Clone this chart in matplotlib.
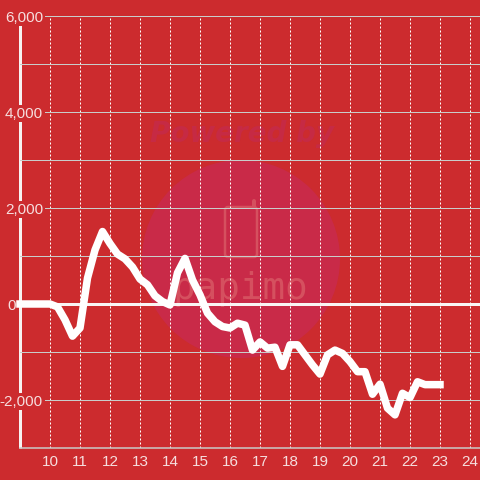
import matplotlib
matplotlib.use("Agg")
import matplotlib.pyplot as plt
from matplotlib.patches import Circle, FancyBboxPatch

plt.rcParams['font.family'] = ['Liberation Sans', 'DejaVu Sans']

# 15 minute steps starting at 9:00
hours = [9 + i * 0.25 for i in range(57)]
values = [0, 0, 0, 0, 0, -60, -330, -670, -500, 540, 1125, 1510, 1260, 1040, 940, 770,
          520, 400, 170, 50, -20, 650, 950, 500, 190, -190, -370, -470, -500, -400, -440,
          -960, -790, -920, -900, -1300, -850, -850, -1060, -1270, -1460, -1060, -960,
          -1030, -1200, -1410, -1410, -1880, -1670, -2170, -2310, -1860, -1950, -1620,
          -1680, -1680, -1680]

x_ticks = list(range(10, 25))
y_major = [-2000, 0, 2000, 4000, 6000]
y_labels = ['-2,000', '0', '2,000', '4,000', '6,000']
y_minor = [-1000, 1000, 3000, 5000]
y_bottom = -3000

BG = '#CC2B2E'
TEXT = '#F6DEDE'
GRID = '#C9CDCB'
MARK = '#D5505F'
PX = 0.72  # 1 pixel in points at dpi 100

fig = plt.figure(figsize=(4.8, 4.8), dpi=100, facecolor=BG)

# watermark behind the chart, in pixel coordinates
bg = fig.add_axes([0, 0, 1, 1], zorder=0)
bg.set_xlim(0, 480)
bg.set_ylim(480, 0)
bg.axis('off')
bg.add_patch(Circle((241, 259), 99, fc='#C92A48', ec='none'))
bg.text(242, 134, 'Powered by', color='#C62A44', fontsize=20, fontweight='bold', fontstyle='italic',
        family='DejaVu Sans', ha='center', va='center')
bg.add_patch(FancyBboxPatch((225, 207), 32, 50, boxstyle='round,pad=0,rounding_size=3',
                            fc='none', ec=MARK, lw=2.5 * PX))
bg.plot([254, 254], [201, 207], color=MARK, lw=4 * PX, solid_capstyle='round')
bg.text(240, 289, 'papimo', color=MARK, fontsize=27, family='DejaVu Sans Mono',
        ha='center', va='center')

# main chart
ax = fig.add_axes([20 / 480, 32 / 480, 460 / 480, 432 / 480], zorder=1)
ax.patch.set_visible(False)
ax.set_xlim(9, 9 + 460 / 30)
ax.set_ylim(y_bottom, 6000)

for side in ['top', 'right', 'bottom']:
    ax.spines[side].set_visible(False)
ax.spines['left'].set_color('#F7F2F2')
ax.spines['left'].set_linewidth(3 * PX)
ax.spines['left'].set_capstyle('butt')
ax.spines['left'].set_zorder(0.4)  # y labels cover the axis line

ax.set_axisbelow(True)
ax.set_xticks(x_ticks)
ax.set_yticks(y_major)
ax.set_yticklabels(y_labels)
ax.set_yticks(y_minor, minor=True)
ax.tick_params(axis='x', length=0, pad=5.0, labelsize=11, labelcolor=TEXT)
ax.tick_params(axis='y', which='both', length=0, pad=-23 * PX, labelsize=11, labelcolor=TEXT)
for label in ax.get_yticklabels():
    label.set_bbox(dict(fc=BG, ec='none', pad=1.4))

# the zero label sits further left than the others
ax.yaxis.get_major_ticks()[1].set_pad(4 * PX)

ax.grid(True, axis='x', color='white', lw=1 * PX, linestyle=(0, (2, 2)))
ax.grid(True, axis='y', which='both', color=GRID, lw=1 * PX)
ax.axhline(y_bottom, color=GRID, lw=1.5 * PX, zorder=0.6, clip_on=False)

ax.axhline(0, color='#F9F4F4', lw=3 * PX, zorder=2)
ax.plot(hours, values, color='white', lw=7.5 * PX, solid_joinstyle='round', solid_capstyle='projecting',
        zorder=3, clip_on=False)

fig.savefig('out.png', dpi=100, facecolor=BG)
